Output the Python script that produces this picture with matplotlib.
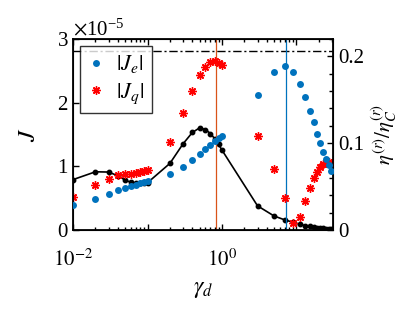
import numpy as np
import matplotlib.pyplot as plt
from matplotlib.ticker import ScalarFormatter, LogLocator, NullFormatter, FixedLocator, MultipleLocator

plt.rcParams['font.family'] = ['Liberation Serif', 'DejaVu Serif']
plt.rcParams['mathtext.fontset'] = 'stix'

# gamma_d values
g_low = [0.01, 0.02, 0.03, 0.04, 0.05, 0.06, 0.07, 0.08, 0.09, 0.1,
         0.2, 0.3, 0.4, 0.5, 0.6, 0.7, 0.8, 0.9, 1.0]
g_high = [3, 5, 7, 9, 11, 13, 15, 17, 19, 21, 23, 25, 27, 29]
g_eta_high = [3, 5, 7, 9, 11, 13, 15, 17, 19, 21, 23, 25, 27, 29, 31]

# |J_e| and |J_q| in units of 1e-5
Je_low = [0.39, 0.49, 0.565, 0.62, 0.665, 0.69, 0.71, 0.73, 0.75, 0.77,
          0.88, 0.985, 1.095, 1.19, 1.27, 1.335, 1.39, 1.445, 1.48]
Je_high = [2.12, 2.485, 2.575, 2.475, 2.29, 2.085, 1.875, 1.69, 1.505,
           1.36, 1.23, 1.11, 1.025, 0.93]
Jq_low = [0.51, 0.70, 0.805, 0.86, 0.88, 0.885, 0.90, 0.91, 0.925, 0.945,
          1.38, 1.84, 2.19, 2.43, 2.565, 2.635, 2.655, 2.63, 2.585]
Jq_high = [1.475, 0.955, 0.50, 0.115, 0.21, 0.46, 0.665, 0.81, 0.915,
           0.995, 1.035, 1.055, 1.063, 1.047]

# efficiency ratio (right axis)
eta_low = [0.058, 0.067, 0.0667, 0.0624, 0.0575, 0.0548, 0.054, 0.0537, 0.0537, 0.0544,
           0.0767, 0.0992, 0.1123, 0.1176, 0.1157, 0.1111, 0.105, 0.0985, 0.092]
eta_high = [0.0278, 0.0161, 0.0115, 0.0089, 0.0066, 0.005, 0.004, 0.0033, 0.0027,
            0.0023, 0.0019, 0.0016, 0.0014, 0.0012, 0.001]
eta_bound = 0.2057
g_lines = [0.82, 7.2]

blue = '#0072BD'
orange = '#D95319'

g_J = np.array(g_low + g_high)
Je = np.array(Je_low + Je_high) * 1e-5
Jq = np.array(Jq_low + Jq_high) * 1e-5
g_eta = np.array(g_low + g_eta_high)
eta = np.array(eta_low + eta_high)

fig = plt.figure(figsize=(4.15, 3.12), dpi=100)
ax = fig.add_axes([0.176, 0.263, 0.627, 0.612])

ax.axvline(g_lines[0], color=orange, lw=0.9, zorder=1)
ax.axvline(g_lines[1], color=blue, lw=0.9, zorder=1)
ax.plot(g_J, Jq, linestyle='none', marker=(8, 2, 0), color='red', ms=6, mew=1.0,
        label=r'$|J_q|$', zorder=2)
ax.plot(g_J, Je, linestyle='none', marker='o', color=blue, ms=5, mec='none',
        label=r'$|J_e|$', zorder=3)

ax.set_xscale('log')
ax.set_xlim(0.01, 31.2)
ax.set_ylim(0, 3e-5)
ax.set_yticks([0, 1e-5, 2e-5, 3e-5])
fmt = ScalarFormatter(useMathText=True)
fmt.set_powerlimits((-3, 3))
ax.yaxis.set_major_formatter(fmt)
ax.yaxis.get_offset_text().set_fontsize(15)
ax.xaxis.set_major_locator(FixedLocator([1e-2, 1e-1, 1e0, 1e1]))
ax.set_xticklabels([r'$10^{-2}$', '', r'$10^{0}$', ''])
ax.xaxis.set_minor_locator(LogLocator(base=10, subs=np.arange(2, 10)))
ax.xaxis.set_minor_formatter(NullFormatter())
ax.tick_params(axis='both', which='both', direction='in', top=True, labelsize=15, width=1)
ax.tick_params(axis='x', which='major', length=4, pad=14)
ax.tick_params(axis='x', which='minor', length=2.5)
ax.tick_params(axis='y', which='major', length=4)
for s in ax.spines.values():
    s.set_linewidth(1.3)

ax.set_xlabel(r'$\gamma_d$', fontsize=17, labelpad=6)
ax.set_ylabel(r'$J$', fontsize=18, labelpad=12)

h, l = ax.get_legend_handles_labels()
leg = ax.legend(h[::-1], l[::-1], loc='upper left', fontsize=16, frameon=True,
                fancybox=False, edgecolor='black', handlelength=0.8, handletextpad=0.5,
                borderpad=0.35, labelspacing=0.25, borderaxespad=0.3)
leg.get_frame().set_linewidth(1)
leg.set_zorder(5)

ax2 = ax.twinx()
ax2.axhline(eta_bound, color='black', lw=1, ls='-.', dashes=(6, 2, 1.5, 2), zorder=0)
ax2.plot(g_eta, eta, color='black', lw=1.2, marker='o', ms=3.2)
ax2.set_ylim(0, 0.22)
ax2.set_yticks([0, 0.1, 0.2])
ax2.set_yticklabels(['0', '0.1', '0.2'])
ax2.yaxis.set_minor_locator(MultipleLocator(0.02))
ax2.tick_params(axis='y', which='both', direction='in', labelsize=15, width=1)
ax2.tick_params(axis='y', which='major', length=4)
ax2.tick_params(axis='y', which='minor', length=3)
ax2.set_ylabel(r'$\eta^{(r)}/\eta_C^{(r)}$', fontsize=15, rotation=90, labelpad=4)
ax.set_zorder(ax2.get_zorder() + 1)
ax.patch.set_visible(False)

fig.savefig('out.png', dpi=100)
